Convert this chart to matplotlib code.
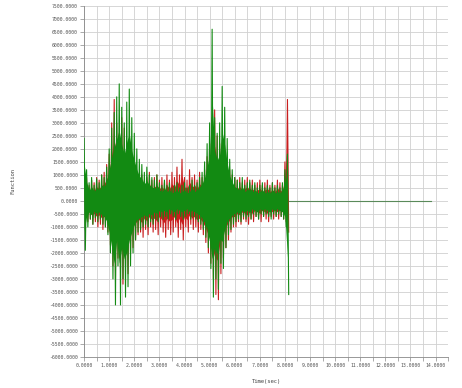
import numpy as np
import matplotlib
matplotlib.use('Agg')
import matplotlib.pyplot as plt
from matplotlib.ticker import MultipleLocator, FormatStrFormatter

# envelope of each waveform, sampled every 0.1 sec (t = 0.0 .. 8.1)
times = np.round(np.arange(0, 8.15, 0.1), 1)

green_hi = [2400, 1200, 700, 900, 600, 850, 700, 1000, 900, 1300,
            2000, 2800, 3400, 4000, 4500, 3600, 3000, 3800, 4300, 3200,
            2600, 2000, 1600, 1400, 1100, 1300, 1000, 900, 800, 1000,
            700, 600, 800, 600, 700, 500, 600, 700, 500, 600,
            700, 500, 600, 800, 600, 700, 900, 1100, 1500, 2200,
            3000, 6600, 3200, 2600, 3000, 4400, 3600, 2400, 1600, 1200,
            900, 800, 700, 900, 600, 700, 800, 600, 700, 500,
            600, 700, 500, 600, 500, 700, 500, 600, 500, 700,
            1200, 1800]
green_lo = [-1900, -1000, -700, -900, -650, -800, -700, -900, -1000, -1300,
            -2000, -3000, -4000, -2500, -4000, -3000, -3700, -3300, -2500, -2000,
            -1500, -1200, -1100, -1000, -900, -1000, -800, -900, -700, -800,
            -600, -700, -600, -700, -500, -600, -700, -500, -600, -700,
            -600, -500, -700, -600, -700, -800, -900, -1100, -1400, -1800,
            -2600, -3700, -3000, -3400, -2400, -2600, -1800, -1300, -1100, -900,
            -800, -700, -800, -600, -700, -600, -700, -500, -600, -700,
            -500, -600, -500, -600, -700, -500, -600, -500, -600, -700,
            -1000, -3600]
red_hi = [500, 900, 600, 800, 700, 900, 800, 1000, 1100, 1400,
          1800, 3000, 3900, 3000, 2600, 3200, 2800, 2000, 1800, 1500,
          1200, 1000, 900, 1000, 800, 900, 1100, 800, 900, 1000,
          800, 900, 700, 1000, 800, 1100, 900, 1300, 1000, 1600,
          900, 800, 1200, 900, 1000, 800, 1100, 900, 1200, 1700,
          2200, 3200, 3500, 2500, 2200, 2000, 1700, 1500, 1200, 1000,
          900, 800, 900, 700, 800, 900, 700, 800, 600, 700,
          800, 600, 700, 800, 600, 700, 600, 800, 700, 600,
          1500, 3900]
red_lo = [-600, -800, -700, -900, -800, -1000, -900, -1100, -1000, -1200,
          -1700, -2500, -3000, -2200, -2600, -3200, -2500, -2800, -2000, -1800,
          -1500, -1300, -1200, -1400, -1100, -1300, -1000, -1200, -1100, -1300,
          -1000, -1200, -1400, -1100, -1300, -1200, -1000, -1400, -1100, -1500,
          -1000, -1200, -900, -1100, -1000, -1200, -1100, -1300, -1600, -2000,
          -2400, -3000, -3600, -3800, -2800, -2200, -1800, -1500, -1200, -1000,
          -1000, -800, -900, -700, -800, -900, -700, -800, -600, -700,
          -800, -600, -700, -800, -600, -700, -600, -700, -600, -700,
          -800, -1200]

# silent tail of the green signal
flat_t = [8.15, 13.8]
flat_v = [0, 0]

RED = '#c81e1e'
GREEN = '#128a12'


def draw_wave(ax, hi, lo, color, z):
    hi = np.asarray(hi, float)
    lo = np.asarray(lo, float)
    # dense core of the waveform, then the spiky peaks on top
    ax.fill_between(times, 0.6 * lo, 0.6 * hi, color=color, lw=0, zorder=z)
    tt = np.column_stack([times, times + 0.05]).ravel()
    yy = np.column_stack([hi, lo]).ravel()
    ax.plot(tt, yy, color=color, lw=0.8, zorder=z)


fig = plt.figure(figsize=(4.62, 3.88), dpi=100)
ax = fig.add_axes([0.182, 0.080, 0.788, 0.905])

draw_wave(ax, red_hi, red_lo, RED, 2)
draw_wave(ax, green_hi, green_lo, GREEN, 3)
ax.plot(flat_t, flat_v, color='#5a8a5a', lw=0.8, zorder=3)

ax.set_xlim(0, 14.5)
ax.set_ylim(-6000, 7500)
ax.xaxis.set_major_locator(MultipleLocator(1.0))
ax.xaxis.set_minor_locator(MultipleLocator(0.5))
ax.yaxis.set_major_locator(MultipleLocator(500))
ax.xaxis.set_major_formatter(FormatStrFormatter('%.4f'))
ax.yaxis.set_major_formatter(FormatStrFormatter('%.4f'))
ax.grid(True, which='both', color='#d0d0d0', lw=0.6, zorder=0)
ax.set_axisbelow(True)
for s in ['top', 'right']:
    ax.spines[s].set_visible(False)
for s in ['left', 'bottom']:
    ax.spines[s].set_color('#888888')
    ax.spines[s].set_linewidth(0.6)
ax.tick_params(which='both', length=3, width=0.5, color='#888888',
               labelsize=3.5, labelcolor='#555555', pad=1.5)

ax.set_xlabel('Time(sec)', fontsize=4, family='DejaVu Sans Mono', color='#444444', labelpad=8)
ax.set_ylabel('Function', fontsize=4, family='DejaVu Sans Mono', color='#444444', labelpad=24)
for lab in ax.get_xticklabels() + ax.get_yticklabels():
    lab.set_family('DejaVu Sans Mono')

fig.savefig('out.png', dpi=100)
